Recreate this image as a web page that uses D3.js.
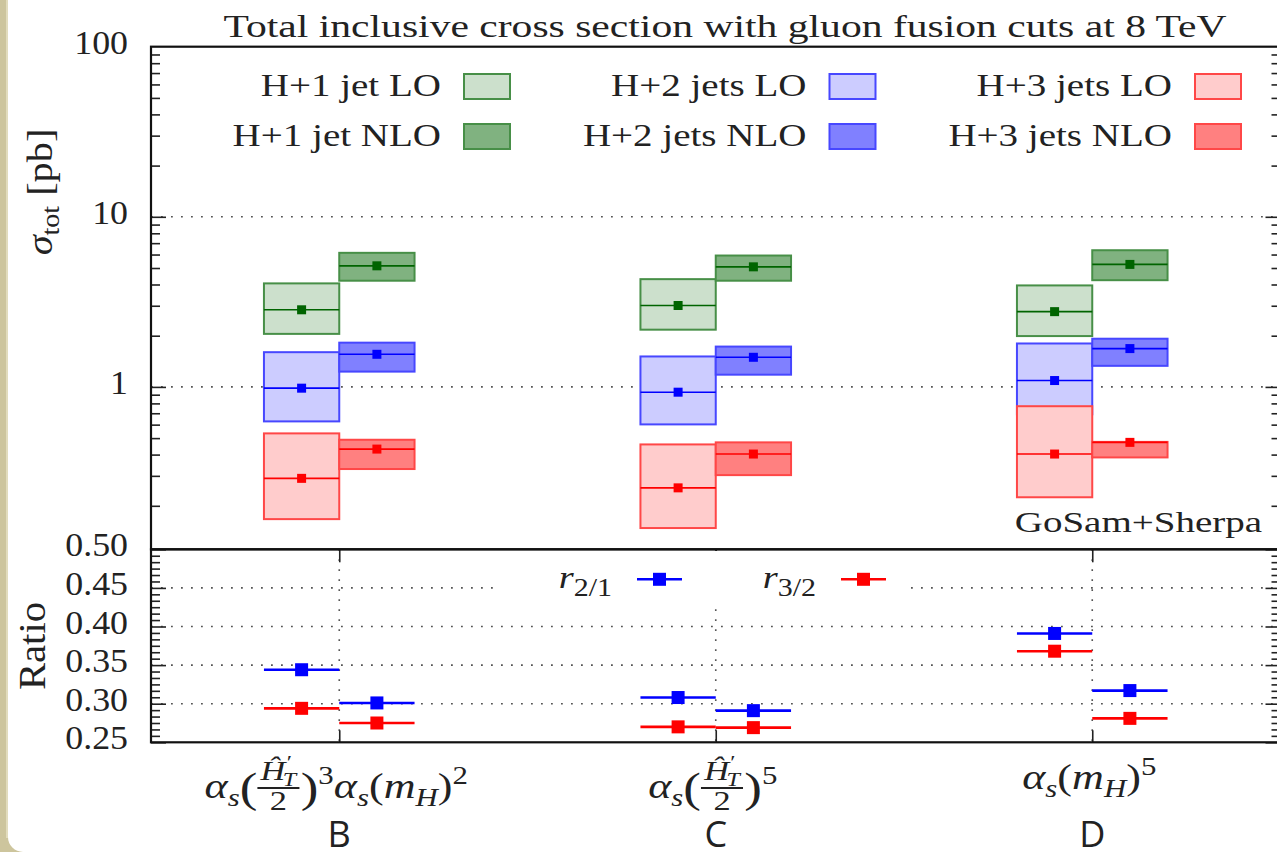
<!DOCTYPE html>
<html>
<head>
<meta charset="utf-8">
<script src="https://cdn.jsdelivr.net/npm/d3@7"></script>
<style>
body { margin: 0; background: #cdc59d; }
svg { display: block; }
text { font-family: "Liberation Serif", "Times New Roman", serif; fill: #222; }
</style>
</head>
<body>
<svg id="chart" width="1277" height="852"></svg>
<script>
// scale choices (x positions of the schemes) and their names
const schemes = [1, 2, 3];
const schemeNames = ["B", "C", "D"];
const jetLabels = ["H+1 jet", "H+2 jets", "H+3 jets"];
const orderNames = ["LO", "NLO"];
const jetColors = ["#006400", "#0000ff", "#ff0000"];

// cross sections in pb, one value per scheme B, C, D
const h1_LO_central = [2.84, 3.01, 2.77];
const h1_LO_low = [2.05, 2.17, 1.99];
const h1_LO_high = [4.06, 4.30, 3.95];
const h1_NLO_central = [5.15, 5.08, 5.25];
const h1_NLO_low = [4.21, 4.21, 4.24];
const h1_NLO_high = [6.14, 5.92, 6.36];

const h2_LO_central = [0.983, 0.931, 1.09];
const h2_LO_low = [0.627, 0.602, 0.69];
const h2_LO_high = [1.60, 1.51, 1.80];
const h2_NLO_central = [1.555, 1.493, 1.68];
const h2_NLO_low = [1.23, 1.18, 1.33];
const h2_NLO_high = [1.82, 1.726, 1.92];

const h3_LO_central = [0.290, 0.255, 0.403];
const h3_LO_low = [0.167, 0.148, 0.2245];
const h3_LO_high = [0.533, 0.459, 0.770];
const h3_NLO_central = [0.431, 0.403, 0.472];
const h3_NLO_low = [0.329, 0.303, 0.385];
const h3_NLO_high = [0.489, 0.472, 0.475];

// ratios r_{2/1} and r_{3/2}
const r21_LO = [0.344, 0.308, 0.391];
const r32_LO = [0.294, 0.270, 0.368];
const r21_NLO = [0.301, 0.291, 0.317];
const r32_NLO = [0.275, 0.269, 0.281];

const upperTicks = [100, 10, 1];
const upperGrid = [10, 1];
const ratioTicks = [0.25, 0.30, 0.35, 0.40, 0.45, 0.50];
const ratioGrid = [0.30, 0.35, 0.40, 0.45];

const bands = [
    { jet: 0, order: 0, central: h1_LO_central, low: h1_LO_low, high: h1_LO_high },
    { jet: 0, order: 1, central: h1_NLO_central, low: h1_NLO_low, high: h1_NLO_high },
    { jet: 1, order: 0, central: h2_LO_central, low: h2_LO_low, high: h2_LO_high },
    { jet: 1, order: 1, central: h2_NLO_central, low: h2_NLO_low, high: h2_NLO_high },
    { jet: 2, order: 0, central: h3_LO_central, low: h3_LO_low, high: h3_LO_high },
    { jet: 2, order: 1, central: h3_NLO_central, low: h3_NLO_low, high: h3_NLO_high }
];
const ratios = [
    { color: jetColors[1], order: 0, values: r21_LO },
    { color: jetColors[2], order: 0, values: r32_LO },
    { color: jetColors[1], order: 1, values: r21_NLO },
    { color: jetColors[2], order: 1, values: r32_NLO }
];

const svg = d3.select("#chart");
const xL = 151, xR = 1280.5, yTop = 46.7, yMid = 549.3, yBot = 742.3;
const bw = 0.2;

const x = d3.scaleLinear().domain([0.5, 3.5]).range([xL, xR]);
const y = d3.scaleLog().domain([0.111, 100]).range([yMid, yTop]);
const yr = d3.scaleLinear().domain([0.25, 0.5]).range([yBot, yMid]);

const tint = (c, a) => d3.interpolateRgb("#ffffff", c)(a);
const offset = order => order === 0 ? -bw : 0;

// text drawn a bit wider than the font, like the stretched original
function label(parent, tx, ty, size, sx, anchor, str) {
    return parent.append("text")
        .attr("transform", `translate(${tx},${ty}) scale(${sx},1)`)
        .attr("text-anchor", anchor).attr("font-size", size).text(str);
}

// slide background
svg.append("rect").attr("x", 8).attr("y", -30).attr("width", 1300).attr("height", 882)
    .attr("rx", 15).attr("fill", "#ffffff");
svg.append("rect").attr("x", 6).attr("y", 0).attr("width", 2).attr("height", 838).attr("fill", "#e2dcbd");

// title
label(svg, 725, 37, 32, 1.3, "middle", "Total inclusive cross section with gluon fusion cuts at 8 TeV");

// ---- grids ----
const dotted = sel => sel.attr("stroke", "#555").attr("stroke-width", 1.6).attr("stroke-dasharray", "1.8,8.2");
svg.append("g").selectAll("line").data(upperGrid).join("line")
    .attr("x1", xL).attr("x2", xR).attr("y1", d => y(d)).attr("y2", d => y(d)).call(dotted);
svg.append("g").selectAll("line").data(ratioGrid).join("line")
    .attr("x1", xL).attr("x2", xR).attr("y1", d => yr(d)).attr("y2", d => yr(d)).call(dotted);
svg.append("g").selectAll("line").data(schemes).join("line")
    .attr("x1", d => x(d)).attr("x2", d => x(d)).attr("y1", yMid).attr("y2", yBot).call(dotted);

// ---- upper panel bands ----
const boxes = svg.append("g");
bands.forEach(b => {
    const color = jetColors[b.jet];
    const rows = schemes.map((s, i) => ({ s, c: b.central[i], lo: b.low[i], hi: b.high[i] }));
    const g = boxes.append("g");
    g.selectAll("rect.band").data(rows).join("rect").attr("class", "band")
        .attr("x", d => x(d.s + offset(b.order)))
        .attr("width", d => x(d.s + offset(b.order) + bw) - x(d.s + offset(b.order)))
        .attr("y", d => y(d.hi))
        .attr("height", d => y(d.lo) - y(d.hi))
        .attr("fill", tint(color, b.order === 0 ? 0.2 : 0.5))
        .attr("stroke", tint(color, 0.72)).attr("stroke-width", 2);
    g.selectAll("line").data(rows).join("line")
        .attr("x1", d => x(d.s + offset(b.order)))
        .attr("x2", d => x(d.s + offset(b.order) + bw))
        .attr("y1", d => y(d.c)).attr("y2", d => y(d.c))
        .attr("stroke", color).attr("stroke-width", 1.6);
    g.selectAll("rect.mk").data(rows).join("rect").attr("class", "mk")
        .attr("x", d => x(d.s + offset(b.order) + bw / 2) - 4.5)
        .attr("y", d => y(d.c) - 4.5)
        .attr("width", 9).attr("height", 9).attr("fill", color);
});

// ---- ratio panel ----
const rg = svg.append("g");
ratios.forEach(r => {
    const rows = schemes.map((s, i) => ({ s, v: r.values[i] }));
    const g = rg.append("g");
    g.selectAll("line").data(rows).join("line")
        .attr("x1", d => x(d.s + offset(r.order)))
        .attr("x2", d => x(d.s + offset(r.order) + bw))
        .attr("y1", d => yr(d.v)).attr("y2", d => yr(d.v))
        .attr("stroke", r.color).attr("stroke-width", 2.6);
    g.selectAll("rect").data(rows).join("rect")
        .attr("x", d => x(d.s + offset(r.order) + bw / 2) - 6.5)
        .attr("y", d => yr(d.v) - 6.5)
        .attr("width", 13).attr("height", 13).attr("fill", r.color);
});

// ---- axes ----
function ticks(axis, at, size) {
    const g = svg.append("g").attr("transform", at)
        .call(axis.tickSize(size).tickFormat(""));
    g.select(".domain").remove();
    g.selectAll("line").attr("stroke", "#222").attr("stroke-width", 1.6);
}
const logMinor = [];
[0.1, 1, 10].forEach(dec => d3.range(2, 10).forEach(k => {
    const v = +(k * dec).toPrecision(3);
    if (v > y.domain()[0] && v < 100) logMinor.push(v);
}));
const ratioMinor = [];
for (let i = 0; i < 5; i++) d3.range(1, 6).forEach(k => ratioMinor.push(0.25 + i * 0.05 + k * 0.05 / 6));

ticks(d3.axisRight(y).tickValues(upperGrid), `translate(${xL},0)`, 15);
ticks(d3.axisRight(y).tickValues(logMinor), `translate(${xL},0)`, 9);
ticks(d3.axisLeft(y).tickValues(upperGrid), `translate(${xR},0)`, 15);
ticks(d3.axisLeft(y).tickValues(logMinor), `translate(${xR},0)`, 9);
ticks(d3.axisRight(yr).tickValues(ratioTicks), `translate(${xL},0)`, 15);
ticks(d3.axisRight(yr).tickValues(ratioMinor), `translate(${xL},0)`, 9);
ticks(d3.axisLeft(yr).tickValues(ratioTicks), `translate(${xR},0)`, 15);
ticks(d3.axisLeft(yr).tickValues(ratioMinor), `translate(${xR},0)`, 9);
ticks(d3.axisBottom(x).tickValues(schemes), `translate(0,${yMid})`, 13);
ticks(d3.axisTop(x).tickValues(schemes), `translate(0,${yBot})`, 12);

// tick labels
const tl = svg.append("g");
upperTicks.forEach(v => label(tl, 128, y(v) + 7, 34.5, 1.04, "end", d3.format("d")(v)));
ratioTicks.forEach(v => label(tl, 128, yr(v) + 7, 34.5, 1.04, "end", d3.format(".2f")(v)));

// frames
svg.append("rect").attr("x", xL).attr("y", yTop).attr("width", xR - xL).attr("height", yMid - yTop)
    .attr("fill", "none").attr("stroke", "#111").attr("stroke-width", 2.2);
svg.append("rect").attr("x", xL).attr("y", yMid).attr("width", xR - xL).attr("height", yBot - yMid)
    .attr("fill", "none").attr("stroke", "#111").attr("stroke-width", 2.2);

// axis titles
const yt = svg.append("text").attr("transform", "translate(52,192) rotate(-90) scale(1.12,1)")
    .attr("text-anchor", "middle").attr("font-size", 36);
yt.append("tspan").style("font-style", "italic").text("σ");
yt.append("tspan").attr("font-size", 25).attr("dy", 7).text("tot");
yt.append("tspan").attr("dy", -7).text(" [pb]");
svg.append("text").attr("transform", "translate(45,646) rotate(-90) scale(1.1,1)")
    .attr("text-anchor", "middle").attr("font-size", 37).text("Ratio");

// ---- upper legend ----
const leg = svg.append("g");
jetLabels.forEach((lab, j) => {
    orderNames.forEach((o, k) => {
        const cy = 86.5 + k * 50;
        const lx = 441 + j * 365.5;
        label(leg, lx, cy + 9, 30.5, 1.28, "end", `${lab} ${o}`);
        leg.append("rect").attr("x", lx + 23).attr("y", cy - 12.5).attr("width", 46).attr("height", 25)
            .attr("fill", tint(jetColors[j], k === 0 ? 0.2 : 0.5))
            .attr("stroke", tint(jetColors[j], 0.72)).attr("stroke-width", 2);
    });
});

label(svg, 1262, 532, 30, 1.3, "end", "GoSam+Sherpa");

// ---- ratio legend ----
svg.append("rect").attr("x", 498).attr("y", 551).attr("width", 405).attr("height", 51).attr("fill", "#fff");
[["2/1", jetColors[1], 612], ["3/2", jetColors[2], 816]].forEach(([sub, c, ex]) => {
    const t = svg.append("text").attr("transform", `translate(${ex},588) scale(1.2,1)`)
        .attr("text-anchor", "end").attr("font-size", 32);
    t.append("tspan").style("font-style", "italic").text("r");
    t.append("tspan").attr("font-size", 25).attr("dy", 8).text(sub);
    svg.append("line").attr("x1", ex + 25).attr("x2", ex + 70).attr("y1", 579.3).attr("y2", 579.3)
        .attr("stroke", c).attr("stroke-width", 2.6);
    svg.append("rect").attr("x", ex + 47.5 - 6.5).attr("y", 579.3 - 6.5).attr("width", 13).attr("height", 13).attr("fill", c);
});

// ---- scheme labels (math) ----
function runText(g, items, x0, base, size) {
    let cx = x0;
    for (const it of items) {
        if (it.frac) {
            const fs = size * 0.78;
            const num = g.append("g"), den = g.append("g");
            const wn = runText(num, it.frac[0], 0, 0, fs);
            const wd = runText(den, it.frac[1], 0, 0, fs);
            const w = Math.max(wn, wd) + 5;
            num.attr("transform", `translate(${cx + (w - wn) / 2},${base - 18})`);
            den.attr("transform", `translate(${cx + (w - wd) / 2},${base + 12})`);
            g.append("line").attr("x1", cx).attr("x2", cx + w).attr("y1", base - 10).attr("y2", base - 10)
                .attr("stroke", "#222").attr("stroke-width", 2);
            cx += w + 1;
            continue;
        }
        let fs = size * (it.scale || 1), dy = it.dy || 0;
        if (it.sub) { fs = size * 0.7; dy += size * 0.22; }
        if (it.sup) { fs = size * 0.7; dy -= size * 0.4; }
        const t = g.append("text").attr("x", cx + (it.dx || 0)).attr("y", base + dy).attr("font-size", fs)
            .style("font-style", it.it ? "italic" : "normal").text(it.t);
        const w = t.node().getComputedTextLength();
        if (!it.keep) cx += w + (it.dx || 0);
    }
    return cx - x0;
}
const alphaS = [{ t: "α", it: true }, { t: "s", it: true, sub: true }];
const htFrac = { frac: [[{ t: "Ĥ", it: true }, { t: "′", sup: true, keep: true, dx: 1 }, { t: "T", it: true, sub: true, dx: -2 }], [{ t: "2" }]] };
const mH = [{ t: "(" }, { t: "m", it: true }, { t: "H", it: true, sub: true }, { t: ")" }];
const schemeMath = [
    [...alphaS, { t: "(", scale: 1.2, dy: 4 }, htFrac, { t: ")", scale: 1.2, dy: 4 }, { t: "3", sup: true }, ...alphaS, ...mH, { t: "2", sup: true }],
    [...alphaS, { t: "(", scale: 1.2, dy: 4 }, htFrac, { t: ")", scale: 1.2, dy: 4 }, { t: "5", sup: true }],
    [...alphaS, ...mH, { t: "5", sup: true }]
];
const schemeBase = [798, 798, 789];
const mathSx = 1.26;
schemes.forEach((s, i) => {
    const g = svg.append("g");
    const w = runText(g, schemeMath[i], 0, 0, 35);
    g.attr("transform", `translate(${x(s) - 3 - mathSx * w / 2},${schemeBase[i]}) scale(${mathSx},1)`);
    svg.append("text").attr("x", x(s)).attr("y", 847).attr("text-anchor", "middle")
        .attr("font-size", 36).style("font-family", "'Open Sans', sans-serif").attr("fill", "#111")
        .text(schemeNames[i]);
});
</script>
</body>
</html>
